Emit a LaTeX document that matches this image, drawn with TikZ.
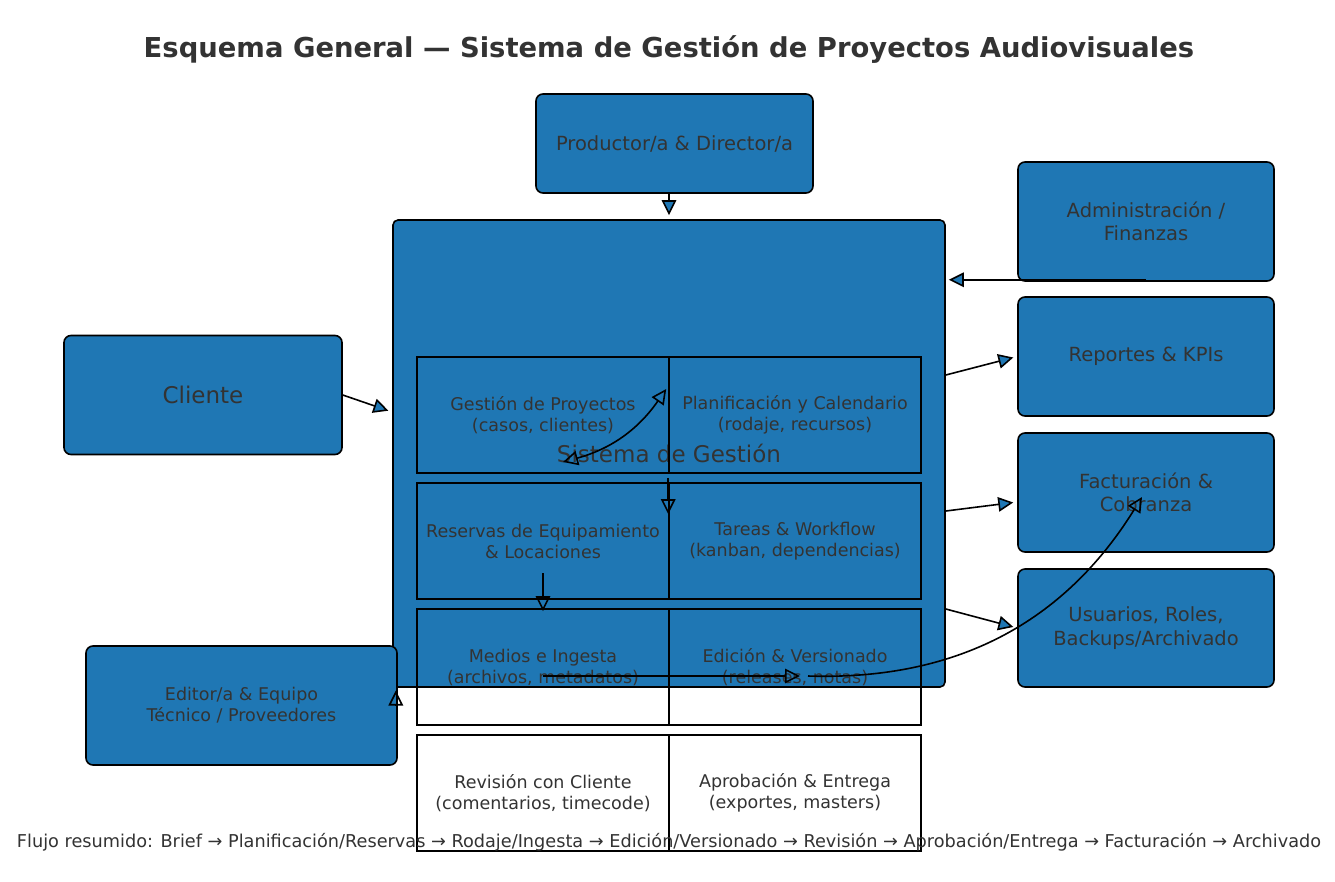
\documentclass[tikz,border=0pt]{standalone}
\usepackage{fontspec}
\setmainfont{DejaVu Sans}
\usetikzlibrary{arrows.meta}
\definecolor{boxblue}{HTML}{1F77B4}
\definecolor{txt}{HTML}{333333}
\begin{document}
\begin{tikzpicture}[x=1pt,y=-1pt,
  bx/.style={draw=black, line width=1.6pt, fill=boxblue, rounded corners=7pt, text=txt, align=center, inner sep=0pt, font=\fontsize{19.5}{23.4}\selectfont},
  cell/.style={draw=black, line width=1.6pt, minimum width=252pt, minimum height=116pt, inner sep=0pt, text=txt, align=center, font=\fontsize{17.5}{21}\selectfont},
  fa/.style={line width=1.6pt, -{Triangle[length=15pt,width=14.5pt,fill=boxblue]}},
  oa/.style={line width=1.6pt, -{Triangle[open,length=15pt,width=14.5pt]}},
  oab/.style={line width=1.6pt, {Triangle[open,length=15pt,width=14.5pt]}-{Triangle[open,length=15pt,width=14.5pt]}},
]
\useasboundingbox (0,0) rectangle (1335,881);
\fill[white] (0,0) rectangle (1335,881);

\node[text=txt, font=\fontsize{27.4}{32}\selectfont\bfseries] (title) at (669,49) {Esquema General — Sistema de Gestión de Proyectos Audiovisuales};

\node[bx, minimum width=277pt, minimum height=99pt] (prod) at (674.5,143.5) {Productor/a \& Director/a};
\node[bx, rounded corners=5pt, minimum width=552pt, minimum height=467pt, font=\fontsize{23}{27.6}\selectfont] (sys) at (669,453.5) {Sistema de Gestión};
\node[bx, minimum width=256pt, minimum height=119pt] (admin) at (1146,221.5) {Administración /\\Finanzas};
\node[bx, minimum width=256pt, minimum height=119pt] (rep) at (1146,356.5) {Reportes \& KPIs};
\node[bx, minimum width=256pt, minimum height=119pt] (fac) at (1146,492.5) {Facturación \&\\Cobranza};
\node[bx, minimum width=256pt, minimum height=118pt] (usr) at (1146,628) {Usuarios, Roles,\\Backups/Archivado};
\node[bx, minimum width=278pt, minimum height=119pt, font=\fontsize{23}{27.6}\selectfont] (cli) at (203,395) {Cliente};
\node[bx, minimum width=311pt, minimum height=119pt, font=\fontsize{17.5}{21}\selectfont] (edi) at (241.5,705.5) {Editor/a \& Equipo\\Técnico / Proveedores};

\node[cell] (c11) at (543,415) {Gestión de Proyectos\\(casos, clientes)};
\node[cell] (c12) at (795,415) {Planificación y Calendario\\(rodaje, recursos)};
\node[cell] (c21) at (543,541) {Reservas de Equipamiento\\\& Locaciones};
\node[cell] (c22) at (795,541) {Tareas \& Workflow\\(kanban, dependencias)};
\node[cell] (c31) at (543,667) {Medios e Ingesta\\(archivos, metadatos)};
\node[cell] (c32) at (795,667) {Edición \& Versionado\\(releases, notas)};
\node[cell] (c41) at (543,793) {Revisión con Cliente\\(comentarios, timecode)};
\node[cell] (c42) at (795,793) {Aprobación \& Entrega\\(exportes, masters)};

\draw[fa, shorten >=4pt] (prod.south -| sys.north) -- (sys.north);
\draw[fa, shorten >=3pt] ([yshift=2pt]admin.south) -- ([yshift=2pt]admin.south -| sys.east);
\draw[fa, shorten >=4pt] ([yshift=78.5pt]sys.east) -- (rep.west);
\draw[fa, shorten >=4pt] ([yshift=-57.5pt]sys.east) -- ([yshift=-9.5pt]fac.west);
\draw[fa, shorten >=4pt] ([yshift=-155.5pt]sys.east) -- (usr.west);
\draw[fa, shorten >=4pt] (cli.east) -- ([yshift=41.5pt]sys.west);

\draw[oab] ([shift={(20pt,-47pt)}]c11.center) to[bend right=20] ([shift={(-2pt,26pt)}]c12.west);
\draw[oa] ([yshift=-4pt]c12.south west) -- ([yshift=-32pt]c22.north west);
\draw[oa] ([yshift=-32pt]c21.center) -- ([yshift=-3pt]c31.north);
\draw[oa] ([yshift=-9pt]c31.center) -- ([shift={(5pt,-9pt)}]c32.center);
\draw[oa] ([shift={(13pt,-9pt)}]c32.center) to[bend right=30] ([shift={(-4pt,-4.5pt)}]fac.center);
\draw[oa] ([xshift=-2pt]edi.east) -- ([shift={(-2pt,15pt)}]edi.east);

\node[text=txt, font=\fontsize{17.7}{21}\selectfont] (foot) at (669,842) {Flujo resumido: Brief → Planificación/Reservas → Rodaje/Ingesta → Edición/Versionado → Revisión → Aprobación/Entrega → Facturación → Archivado};
\end{tikzpicture}
\end{document}
